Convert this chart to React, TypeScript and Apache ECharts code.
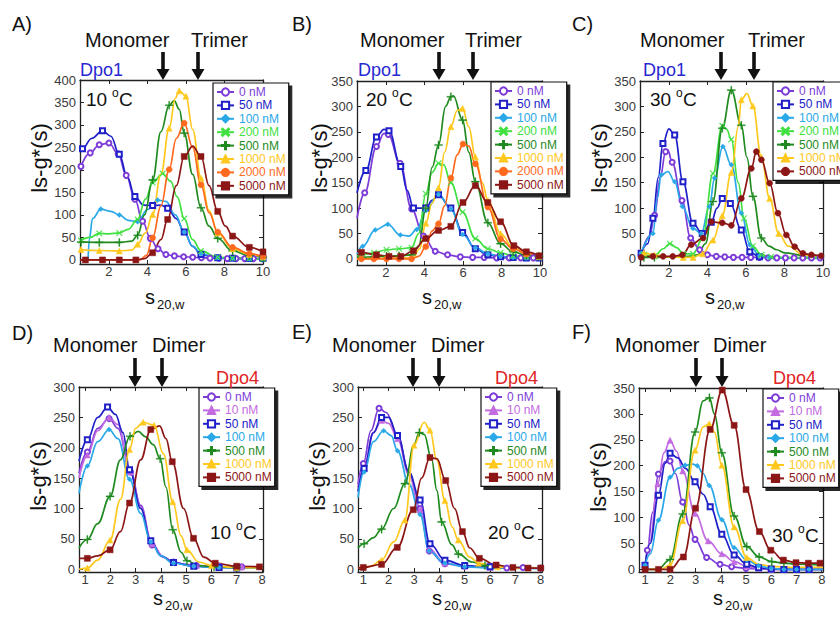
import { useEffect, useRef } from 'react';
import * as echarts from 'echarts';

type Pt = [number, number, number]; // [s20,w, ls-g*(s), marker shown]

// ---------- tick labels ----------
const X_TICKS_DPO1 = [2, 4, 6, 8, 10];
const X_TICKS_DPO4 = [1, 2, 3, 4, 5, 6, 7, 8];
const Y_TICKS_400 = [0, 50, 100, 150, 200, 250, 300, 350, 400];
const Y_TICKS_350 = [0, 50, 100, 150, 200, 250, 300, 350];
const Y_TICKS_300 = [0, 50, 100, 150, 200, 250, 300];

// ---------- Panel A: Dpo1 10 °C ----------
const A_0nM: Pt[] = [[0.55,208,1],[1.03,238,1],[1.5,256,1],[2.0,260,1],[2.48,236,1],[2.9,188,1],[3.35,135,1],[3.75,86,1],[4.15,48,1],[4.55,25,1],[4.96,12,1],[5.4,9,1],[5.88,7,1],[6.35,6,1],[6.8,5,1],[7.25,4,1],[7.7,4,1],[8.15,3,1],[8.6,3,1],[9.05,3,1],[9.5,3,1],[9.95,3,1]];
const A_50nM: Pt[] = [[0.5,240,0],[0.63,247,1],[1.1,270,0],[1.67,287,1],[2.1,275,0],[2.54,235,1],[2.95,185,0],[3.35,141,1],[3.8,122,0],[4.27,121,1],[4.7,122,0],[5.05,115,1],[5.5,92,0],[5.91,62,1],[6.35,30,0],[6.78,12,1],[7.65,5,1],[8.42,4,1],[9.29,3,1],[10,3,1]];
const A_100nM: Pt[] = [[0.92,0,0],[0.98,45,0],[1.15,92,0],[1.58,113,1],[2.1,108,0],[2.54,100,1],[3.0,88,0],[3.49,85,1],[4.0,112,0],[4.53,133,1],[4.96,130,0],[5.45,100,0],[5.91,62,1],[6.35,30,0],[6.78,14,1],[7.65,5,1],[8.42,3,1],[9.29,2,1],[10,2,1]];
const A_200nM: Pt[] = [[0.55,43,1],[1.0,50,0],[1.5,59,1],[2.0,58,0],[2.54,60,1],[3.0,68,0],[3.49,90,1],[3.9,135,0],[4.27,172,1],[4.79,192,1],[5.2,175,0],[5.55,140,0],[5.91,92,1],[6.35,45,0],[6.78,20,1],[7.65,6,1],[8.42,4,1],[9.29,3,1],[10,2,1]];
const A_500nM: Pt[] = [[0.55,40,1],[1.5,39,1],[2.54,39,1],[3.2,42,0],[3.49,55,1],[3.85,100,0],[4.27,178,1],[4.7,285,0],[5.13,344,1],[5.39,354,0],[5.65,335,0],[5.91,282,1],[6.35,190,0],[6.78,116,1],[7.2,75,0],[7.65,48,1],[8.42,20,1],[9.29,10,1],[10,6,1]];
const A_1000nM: Pt[] = [[0.55,23,1],[1.5,21,1],[2.54,20,1],[3.2,22,0],[3.49,35,1],[3.9,60,0],[4.27,101,1],[4.7,190,0],[5.13,293,1],[5.45,360,0],[5.65,376,1],[6.0,364,1],[6.35,290,0],[6.78,182,1],[7.2,110,0],[7.65,60,1],[8.42,25,1],[9.29,12,1],[10,7,1]];
const A_2000nM: Pt[] = [[0.5,0,0],[3.6,0,0],[3.95,10,0],[4.27,49,1],[4.7,120,0],[5.13,201,1],[5.5,270,0],[5.91,304,1],[6.35,250,0],[6.78,167,1],[7.2,105,0],[7.65,62,1],[8.42,28,1],[9.29,14,1],[10,8,1]];
const A_5000nM: Pt[] = [[0.5,0,0],[0.78,0,1],[1.67,0,1],[2.54,0,1],[3.4,0,1],[3.85,3,0],[4.27,16,1],[4.7,45,0],[5.05,90,1],[5.5,165,0],[5.91,230,1],[6.35,253,0],[6.78,230,1],[7.2,165,0],[7.65,108,1],[8.05,75,0],[8.42,53,1],[9.29,28,1],[10,18,1]];

// ---------- Panel B: Dpo1 20 °C ----------
const B_0nM: Pt[] = [[0.5,80,0],[0.9,130,1],[1.51,221,1],[1.9,247,0],[2.12,245,1],[2.73,188,1],[3.34,98,1],[3.95,45,1],[4.56,15,1],[5.2,8,1],[5.86,4,1],[6.5,3,1],[7.1,3,1],[7.75,2,1],[8.4,2,1],[9.0,2,1],[9.65,2,1],[10.1,2,0]];
const B_50nM: Pt[] = [[0.5,130,0],[0.96,174,1],[1.51,240,1],[1.9,255,0],[2.16,252,1],[2.77,182,1],[3.1,135,0],[3.43,100,1],[4.07,100,1],[4.4,115,0],[4.73,126,1],[5.37,100,1],[5.98,52,1],[6.64,20,1],[7.29,8,1],[7.95,4,1],[8.6,3,1],[9.29,2,1],[9.95,2,1]];
const B_100nM: Pt[] = [[0.5,10,0],[0.8,25,1],[1.45,57,1],[2.1,68,1],[2.75,47,1],[3.2,45,0],[3.6,58,1],[4.07,95,1],[4.73,127,1],[5.37,98,1],[5.98,48,1],[6.64,22,1],[7.29,10,1],[7.95,5,1],[8.6,3,1],[9.29,2,1],[9.95,2,1]];
const B_200nM: Pt[] = [[0.5,5,0],[0.73,8,1],[1.38,12,1],[2.03,18,1],[2.68,20,1],[3.33,22,1],[3.7,50,0],[4.07,128,1],[4.4,170,0],[4.73,188,1],[5.0,185,0],[5.37,150,1],[5.98,92,1],[6.64,40,1],[7.29,20,1],[7.95,12,1],[8.6,6,1],[9.29,4,1],[9.95,3,1]];
const B_500nM: Pt[] = [[0.5,3,0],[0.73,3,1],[1.38,4,1],[2.03,5,1],[2.68,6,1],[3.33,8,1],[3.7,25,0],[4.07,100,1],[4.4,180,0],[4.73,224,1],[5.1,300,0],[5.37,319,1],[5.5,321,0],[5.98,273,1],[6.3,210,0],[6.64,152,1],[7.29,71,1],[7.95,30,1],[8.6,14,1],[9.29,7,1],[9.95,5,1]];
const B_1000nM: Pt[] = [[0.5,0,0],[3.4,2,0],[3.75,20,0],[4.07,70,1],[4.4,110,0],[4.73,140,1],[5.05,210,0],[5.37,260,1],[5.7,292,0],[5.98,296,1],[6.3,260,0],[6.64,201,1],[7.0,150,0],[7.29,115,1],[7.95,50,1],[8.6,22,1],[9.29,10,1],[9.95,5,1]];
const B_2000nM: Pt[] = [[0.5,0,0],[0.73,0,1],[1.38,0,1],[2.03,0,1],[2.68,0,1],[3.33,0,1],[3.7,5,0],[4.07,24,1],[4.4,55,0],[4.73,69,1],[5.05,105,0],[5.37,159,1],[5.7,205,0],[6.0,226,1],[6.3,222,0],[6.64,187,1],[7.29,102,1],[7.95,39,1],[8.6,20,1],[9.29,10,1],[9.95,6,1]];
const B_5000nM: Pt[] = [[0.5,15,0],[0.73,13,1],[1.51,8,1],[2.16,5,1],[2.77,5,1],[3.43,16,1],[4.07,40,1],[4.73,56,1],[5.37,64,1],[6.0,111,1],[6.64,144,1],[7.29,111,1],[7.95,73,1],[8.64,26,1],[9.29,14,1],[9.95,6,1]];

// ---------- Panel C: Dpo1 30 °C ----------
const C_0nM: Pt[] = [[0.56,8,1],[1.0,45,0],[1.26,86,1],[1.55,160,0],[1.83,211,1],[1.95,214,0],[2.17,190,1],[2.68,115,1],[3.13,41,1],[3.6,18,1],[4.0,8,1],[4.46,5,1],[4.9,4,1],[5.35,3,1],[5.8,3,1],[6.25,3,1],[6.7,3,1],[7.15,2,1],[7.6,2,1],[8.05,2,1],[8.5,2,1],[8.95,2,1],[9.4,2,1],[9.85,2,1]];
const C_50nM: Pt[] = [[0.56,11,1],[0.9,30,0],[1.17,80,1],[1.45,160,0],[1.69,227,1],[2.0,256,0],[2.3,244,1],[2.73,152,1],[3.25,70,1],[3.73,50,1],[4.2,72,1],[4.5,100,0],[4.77,119,1],[5.19,109,1],[5.76,57,1],[6.2,14,1],[6.7,4,1],[7.2,3,0],[8,2,0],[10,2,0]];
const C_100nM: Pt[] = [[0.56,11,1],[1.17,50,1],[1.4,120,0],[1.6,165,1],[1.95,172,0],[2.3,152,1],[2.7,103,1],[3.25,60,1],[3.68,50,1],[4.1,103,1],[4.37,159,1],[4.8,221,1],[5.24,185,1],[5.76,90,1],[6.2,28,1],[6.7,6,1],[7.2,3,1],[8,2,0],[10,1,0]];
const C_200nM: Pt[] = [[0.5,12,0],[0.7,8,1],[1.25,5,1],[1.7,20,0],[2.05,30,1],[2.4,22,0],[2.75,10,1],[3.25,10,1],[3.75,40,1],[4.29,168,1],[4.77,262,1],[5.0,255,0],[5.24,235,1],[5.6,150,0],[5.9,80,1],[6.35,25,1],[6.8,8,1],[7.3,4,1],[8,3,0],[10,2,0]];
const C_500nM: Pt[] = [[0.5,5,0],[0.7,3,1],[1.25,3,1],[2.0,4,0],[3.0,5,0],[3.5,8,0],[3.9,30,0],[4.29,113,1],[4.77,257,1],[5.24,332,1],[5.76,263,1],[6.05,200,0],[6.36,123,1],[6.8,41,1],[7.2,25,0],[7.6,18,0],[8,12,0],[9,7,0],[10,5,0]];
const C_1000nM: Pt[] = [[0.5,18,0],[0.7,12,1],[1.25,8,1],[2.0,4,0],[2.75,3,1],[3.25,3,1],[3.75,10,1],[4.29,37,1],[4.77,85,1],[5.24,170,1],[5.6,260,0],[5.76,313,1],[6.05,325,0],[6.36,301,1],[6.8,200,1],[7.23,119,1],[7.7,50,1],[8.2,25,0],[9,8,0],[10,5,0]];
const C_5000nM: Pt[] = [[0.56,3,1],[1.17,5,1],[1.7,5,1],[2.2,5,1],[2.7,8,1],[3.16,28,1],[3.77,41,1],[4.2,73,1],[4.77,71,1],[5.24,66,1],[5.76,119,1],[6.28,178,1],[6.54,211,1],[6.8,195,1],[7.23,149,1],[7.66,90,1],[8.1,47,1],[8.53,24,1],[8.96,11,1],[9.4,8,1],[9.9,6,1]];

// ---------- Panel D: Dpo4 10 °C ----------
const D_0nM: Pt[] = [[0.76,158,0],[1.09,193,1],[1.5,232,0],[1.95,248,1],[2.3,232,0],[2.8,160,1],[3.2,105,0],[3.65,40,1],[4.1,20,0],[4.5,12,1],[5.0,8,0],[5.4,6,1],[6.0,5,0],[6.3,5,1],[7.2,4,1],[8.04,3,0]];
const D_10nM: Pt[] = [[0.76,150,0],[1.09,188,1],[1.5,228,0],[1.95,250,1],[2.3,238,0],[2.8,160,1],[3.2,102,0],[3.65,42,1],[4.1,20,0],[4.5,12,1],[5.0,7,0],[5.4,6,1],[6.3,4,1],[7.2,4,1],[8.04,3,0]];
const D_50nM: Pt[] = [[0.76,178,0],[1.09,213,1],[1.5,250,0],[1.89,267,1],[2.2,255,0],[2.5,225,0],[2.76,164,1],[3.2,100,0],[3.6,47,1],[4.0,22,0],[4.5,11,1],[5.3,5,1],[6.3,3,1],[7.0,2,1],[8.04,2,0]];
const D_100nM: Pt[] = [[0.76,125,0],[1.09,170,1],[1.5,210,0],[1.95,230,1],[2.3,215,0],[2.76,148,1],[3.2,92,0],[3.6,45,1],[4.0,22,0],[4.5,10,1],[5.3,5,1],[6.3,3,1],[7.0,2,0],[8.04,2,0]];
const D_500nM: Pt[] = [[0.76,35,0],[1.09,49,1],[1.5,75,0],[1.99,120,1],[2.4,180,0],[2.78,219,1],[3.1,227,0],[3.4,218,0],[3.7,205,0],[3.97,182,1],[4.2,135,0],[4.47,65,1],[4.8,28,0],[5.03,14,1],[5.5,6,0],[6.1,4,1],[7.0,3,1],[8.04,3,0]];
const D_1000nM: Pt[] = [[0.76,0,0],[1.09,2,1],[1.5,15,0],[1.99,48,1],[2.4,115,0],[2.76,197,1],[3.0,232,0],[3.3,242,1],[3.73,237,1],[4.1,190,0],[4.47,111,1],[4.8,55,0],[5.03,32,1],[5.5,12,0],[6.0,6,1],[7.0,3,1],[8.04,2,0]];
const D_5000nM: Pt[] = [[0.76,18,0],[1.09,18,1],[1.5,22,0],[1.99,32,1],[2.4,62,0],[2.76,109,1],[3.2,180,0],[3.6,230,1],[3.95,236,0],[4.2,215,0],[4.45,177,1],[4.9,100,0],[5.29,51,1],[5.7,20,0],[6.15,10,1],[7.0,5,1],[7.9,4,1]];

// ---------- Panel E: Dpo4 20 °C ----------
const E_0nM: Pt[] = [[0.79,140,0],[1.0,174,1],[1.3,228,0],[1.62,265,1],[1.9,258,0],[2.35,220,1],[2.8,160,0],[3.24,100,1],[3.6,30,1],[4.22,9,1],[5.0,5,1],[5.5,4,0],[6.0,4,1],[6.66,2,1],[7.3,3,1],[8.0,2,1]];
const E_10nM: Pt[] = [[0.79,135,0],[1.03,168,1],[1.4,225,0],[1.72,245,1],[2.0,240,0],[2.35,215,1],[2.8,155,0],[3.24,98,1],[3.6,33,1],[4.22,10,1],[5.0,5,1],[6.0,3,1],[7.0,2,0],[8.05,2,0]];
const E_50nM: Pt[] = [[0.79,128,0],[1.03,166,1],[1.4,225,0],[1.72,250,1],[2.0,250,0],[2.35,220,1],[2.8,160,0],[3.24,114,1],[3.63,42,1],[4.22,15,1],[5.0,6,1],[6.0,4,1],[7.0,2,0],[8.05,2,0]];
const E_100nM: Pt[] = [[0.79,118,0],[1.03,160,1],[1.4,210,0],[1.8,228,1],[2.1,220,0],[2.35,195,1],[2.8,140,0],[3.24,90,1],[3.6,30,1],[4.22,10,1],[5.0,4,1],[6.0,2,0],[8.05,1,0]];
const E_500nM: Pt[] = [[0.79,35,0],[1.03,42,1],[1.4,52,0],[1.72,66,1],[2.2,100,0],[2.64,141,1],[3.0,205,0],[3.21,225,1],[3.4,222,0],[3.7,180,0],[3.9,130,0],[4.09,78,1],[4.5,40,0],[4.75,25,1],[5.3,12,0],[5.8,6,1],[6.5,3,0],[8.05,2,0]];
const E_1000nM: Pt[] = [[0.79,2,0],[1.3,5,0],[1.72,15,1],[2.2,45,0],[2.64,81,1],[3.0,204,1],[3.4,242,0],[3.63,229,1],[3.9,180,0],[4.22,113,1],[4.5,70,0],[4.75,48,1],[5.2,20,0],[5.55,10,1],[6.3,4,1],[7.0,2,0],[8.05,2,0]];
const E_5000nM: Pt[] = [[0.79,2,0],[1.0,3,1],[1.72,8,1],[2.34,36,1],[2.97,98,1],[3.3,150,0],[3.63,184,1],[3.9,182,0],[4.25,146,1],[4.6,100,0],[4.91,62,1],[5.2,35,0],[5.58,18,1],[6.24,7,1],[6.9,3,1],[7.5,2,1],[8.0,2,1]];

// ---------- Panel F: Dpo4 30 °C ----------
const F_0nM: Pt[] = [[1.0,0,0],[1.09,37,1],[1.3,110,0],[1.53,184,1],[1.8,208,0],[1.99,209,1],[2.2,185,0],[2.49,130,1],[2.75,85,0],[2.98,58,1],[3.44,23,1],[3.97,10,1],[4.43,5,1],[5.0,2,1],[5.5,1,0],[6.0,0,1],[6.5,0,1],[7.0,0,1],[7.5,0,1],[8.05,0,0]];
const F_10nM: Pt[] = [[1.0,0,0],[1.2,55,0],[1.5,165,1],[1.75,225,0],[1.99,249,1],[2.25,228,0],[2.49,190,1],[2.98,108,1],[3.5,55,1],[4.04,30,1],[4.53,15,1],[5.03,6,1],[5.52,2,1],[6.0,0,1],[7.0,0,0],[8.05,0,0]];
const F_50nM: Pt[] = [[1.0,8,1],[1.2,50,0],[1.53,143,1],[1.8,205,0],[1.99,224,1],[2.3,215,0],[2.6,195,0],[2.98,169,1],[3.3,145,0],[3.58,121,1],[4.04,68,1],[4.53,28,1],[5.03,10,1],[5.5,3,1],[6.0,1,1],[6.5,0,1],[7.0,0,1],[7.5,0,1],[8.05,0,0]];
const F_100nM: Pt[] = [[1.0,8,1],[1.2,30,0],[1.53,95,1],[1.99,178,1],[2.3,195,0],[2.59,201,1],[2.9,203,0],[3.07,200,1],[3.3,185,0],[3.54,162,1],[4.04,96,1],[4.53,42,1],[5.03,18,1],[5.5,7,1],[6.0,2,1],[6.5,0,1],[7.0,0,1],[7.5,0,1],[8.05,0,0]];
const F_500nM: Pt[] = [[1.0,0,0],[1.5,0,0],[1.99,19,1],[2.49,107,1],[2.98,265,1],[3.3,325,0],[3.55,331,1],[3.75,300,0],[4.04,225,1],[4.53,103,1],[5.03,44,1],[5.52,24,1],[6.02,15,1],[6.5,12,1],[7.0,10,0],[8.05,8,0]];
const F_1000nM: Pt[] = [[1.0,0,0],[1.6,0,0],[1.99,8,1],[2.49,94,1],[2.98,230,1],[3.3,275,0],[3.54,281,1],[3.75,265,0],[4.04,201,1],[4.53,82,1],[5.03,23,1],[5.5,10,0],[6.0,6,0],[7.0,4,0],[8.05,4,0]];
const F_5000nM: Pt[] = [[1.0,0,1],[1.53,0,1],[1.99,0,1],[2.52,24,1],[3.0,118,1],[3.58,270,1],[4.06,346,1],[4.53,278,1],[5.0,154,1],[5.53,73,1],[5.98,37,1],[6.48,18,1],[6.98,13,1],[7.47,12,1],[7.93,12,1]];

// ---------- styles ----------
const FONT = '"Liberation Sans", Arial, Helvetica, sans-serif';
const SYM_X = 'path://M1,0L5,4L9,0L10,1L6,5L10,9L9,10L5,6L1,10L0,9L4,5L0,1Z';
const SYM_PLUS = 'path://M4.3,0H5.7V4.3H10V5.7H5.7V10H4.3V5.7H0V4.3H4.3Z';

const STYLE: Record<string, { color: string; symbol: string; size: number }> = {
  '0 nM': { color: '#7d3cd8', symbol: 'emptyCircle', size: 5 },
  '10 nM': { color: '#c36be0', symbol: 'triangle', size: 6 },
  '50 nM': { color: '#2020c8', symbol: 'emptyRect', size: 5 },
  '100 nM': { color: '#2aa8e8', symbol: 'diamond', size: 5 },
  '200 nM': { color: '#40e040', symbol: SYM_X, size: 6 },
  '500 nM': { color: '#1f8a1f', symbol: SYM_PLUS, size: 8 },
  '1000 nM': { color: '#ffc81e', symbol: 'triangle', size: 6 },
  '2000 nM': { color: '#ff6a1e', symbol: 'circle', size: 6 },
  '5000 nM': { color: '#8c1616', symbol: 'rect', size: 6 },
};

interface PanelDef {
  key: string;
  grid: { left: number; top: number; width: number; height: number };
  xMin: number; xMax: number; xTicks: number[];
  yMin: number; yMax: number; yTicks: number[];
  legend: { left: number; top: number };
  series: [string, Pt[], string?][];
}

const PANELS: PanelDef[] = [
  { key: 'A', grid: { left: 80, top: 80, width: 183, height: 184 }, xMin: 0.5, xMax: 10, xTicks: X_TICKS_DPO1, yMin: -9, yMax: 400, yTicks: Y_TICKS_400, legend: { left: 213, top: 83 },
    series: [['0 nM', A_0nM], ['50 nM', A_50nM], ['100 nM', A_100nM], ['200 nM', A_200nM], ['500 nM', A_500nM], ['1000 nM', A_1000nM], ['2000 nM', A_2000nM], ['5000 nM', A_5000nM]] },
  { key: 'B', grid: { left: 357, top: 81, width: 185, height: 184 }, xMin: 0.5, xMax: 10.1, xTicks: X_TICKS_DPO1, yMin: -12, yMax: 350, yTicks: Y_TICKS_350, legend: { left: 491, top: 82 },
    series: [['0 nM', B_0nM], ['50 nM', B_50nM], ['100 nM', B_100nM], ['200 nM', B_200nM], ['500 nM', B_500nM], ['1000 nM', B_1000nM], ['2000 nM', B_2000nM], ['5000 nM', B_5000nM]] },
  { key: 'C', grid: { left: 640, top: 81, width: 183, height: 184 }, xMin: 0.5, xMax: 10, xTicks: X_TICKS_DPO1, yMin: -12, yMax: 350, yTicks: Y_TICKS_350, legend: { left: 773, top: 82 },
    series: [['0 nM', C_0nM], ['50 nM', C_50nM], ['100 nM', C_100nM], ['200 nM', C_200nM], ['500 nM', C_500nM], ['1000 nM', C_1000nM], ['5000 nM', C_5000nM, 'circle']] },
  { key: 'D', grid: { left: 79, top: 387, width: 184, height: 185 }, xMin: 0.76, xMax: 8.04, xTicks: X_TICKS_DPO4, yMin: -4.5, yMax: 300, yTicks: Y_TICKS_300, legend: { left: 199, top: 388 },
    series: [['0 nM', D_0nM], ['10 nM', D_10nM], ['50 nM', D_50nM], ['100 nM', D_100nM], ['500 nM', D_500nM], ['1000 nM', D_1000nM], ['5000 nM', D_5000nM]] },
  { key: 'E', grid: { left: 358, top: 387, width: 184, height: 185 }, xMin: 0.79, xMax: 8.05, xTicks: X_TICKS_DPO4, yMin: -4.5, yMax: 300, yTicks: Y_TICKS_300, legend: { left: 481, top: 388 },
    series: [['0 nM', E_0nM], ['10 nM', E_10nM], ['50 nM', E_50nM], ['100 nM', E_100nM], ['500 nM', E_500nM], ['1000 nM', E_1000nM], ['5000 nM', E_5000nM]] },
  { key: 'F', grid: { left: 639, top: 388, width: 184, height: 184 }, xMin: 0.76, xMax: 8.05, xTicks: X_TICKS_DPO4, yMin: -5, yMax: 350, yTicks: Y_TICKS_350, legend: { left: 763, top: 389 },
    series: [['0 nM', F_0nM], ['10 nM', F_10nM], ['50 nM', F_50nM], ['100 nM', F_100nM], ['500 nM', F_500nM], ['1000 nM', F_1000nM], ['5000 nM', F_5000nM]] },
];

// ---------- annotation texts ----------
const PANEL_LETTERS = ['A)', 'B)', 'C)', 'D)', 'E)', 'F)'];
const TEMPS = ['10', '20', '30', '10', '20', '30'];
const PROTEINS = ['Dpo1', 'Dpo1', 'Dpo1', 'Dpo4', 'Dpo4', 'Dpo4'];
const OLIGO = ['Trimer', 'Trimer', 'Trimer', 'Dimer', 'Dimer', 'Dimer'];

function valueAxis(gridIndex: number, position: string, min: number, max: number, ticks: number[], showLabel: boolean) {
  const isX = position === 'bottom' || position === 'top';
  return {
    type: 'value', gridIndex, position, min, max,
    axisLine: { show: true, onZero: false, lineStyle: { color: '#222', width: 1.3 } },
    axisTick: { show: true, inside: true, length: 4, customValues: ticks, lineStyle: { color: '#222', width: 1 } },
    axisLabel: { show: showLabel, customValues: ticks, fontSize: 13, color: '#3a3a3a', fontFamily: FONT, margin: isX ? 1 : 4 },
    splitLine: { show: false },
  };
}

function text(x: number, y: number, t: string, size: number, fill = '#111', align = 'left', rotation = 0) {
  return { type: 'text', x, y, rotation, z: 50, style: { text: t, fontSize: size, fontFamily: FONT, fill, align, verticalAlign: 'middle' } };
}

function arrow(x: number, y0: number, y1: number) {
  return {
    type: 'polygon', z: 50,
    shape: { points: [[x - 1.8, y0], [x + 1.8, y0], [x + 1.8, y1 - 11], [x + 6.5, y1 - 11], [x, y1], [x - 6.5, y1 - 11], [x - 1.8, y1 - 11]] },
    style: { fill: '#111' },
  };
}

function buildOption() {
  const grid = PANELS.map((p) => ({ ...p.grid, containLabel: false }));
  const xAxis: any[] = [];
  const yAxis: any[] = [];
  PANELS.forEach((p, i) => xAxis.push(valueAxis(i, 'bottom', p.xMin, p.xMax, p.xTicks, true)));
  PANELS.forEach((p, i) => xAxis.push(valueAxis(i, 'top', p.xMin, p.xMax, p.xTicks, false)));
  PANELS.forEach((p, i) => yAxis.push(valueAxis(i, 'left', p.yMin, p.yMax, p.yTicks, true)));
  PANELS.forEach((p, i) => yAxis.push(valueAxis(i, 'right', p.yMin, p.yMax, p.yTicks, false)));

  const series: any[] = [];
  const legend: any[] = [];
  PANELS.forEach((p, i) => {
    const names: any[] = [];
    p.series.forEach(([label, pts, symOverride]) => {
      const st = STYLE[label];
      const symbol = symOverride || st.symbol;
      const isPath = symbol.startsWith('path://');
      const isEmpty = symbol.startsWith('empty');
      const name = `${p.key}|${label}`;
      names.push({ name, textStyle: { color: st.color } });
      series.push({
        type: 'line', name, xAxisIndex: i, yAxisIndex: i,
        data: pts.map(([x, y, m]) => (m ? [x, y] : { value: [x, y], symbol: 'none' })),
        smooth: 0.4, smoothMonotone: 'x',
        symbol, symbolSize: symOverride === 'circle' ? 6 : st.size,
        showSymbol: true, showAllSymbol: true, clip: true,
        lineStyle: { color: st.color, width: 1.7 },
        itemStyle: { color: st.color, borderColor: st.color, borderWidth: isPath ? 0.3 : isEmpty ? 1.1 : 0.5 },
        emphasis: { disabled: true },
        z: 2,
      });
    });
    legend.push({
      orient: 'vertical', left: p.legend.left, top: p.legend.top,
      itemWidth: 17, itemHeight: 9, itemGap: 1.4, padding: [3, 3, 3, 3],
      backgroundColor: '#fff', borderColor: '#111', borderWidth: 1.2,
      shadowColor: 'rgba(0,0,0,0.85)', shadowOffsetX: 3, shadowOffsetY: 3, shadowBlur: 1,
      textStyle: { fontSize: 12, fontFamily: FONT, lineHeight: 12 },
      selectedMode: false,
      formatter: (n: string) => n.split('|')[1],
      data: names, z: 10,
    });
  });

  const g: any[] = [];
  const letterPos = [[12, 24], [292, 24], [572, 24], [12, 333], [292, 332], [572, 332]];
  letterPos.forEach(([x, y], i) => g.push(text(x, y, PANEL_LETTERS[i], 20)));
  const monoPos = [[85, 40], [360, 40], [640, 40], [53, 345], [332, 345], [615, 345]];
  const oligoPos = [[191, 40], [465, 40], [748, 40], [152, 345], [431, 345], [713, 345]];
  monoPos.forEach(([x, y]) => g.push(text(x, y, 'Monomer', 20)));
  oligoPos.forEach(([x, y], i) => g.push(text(x, y, OLIGO[i], 20)));
  const arrowPos = [[163, 198, 52, 80], [439, 473, 52, 80], [721, 754, 52, 80], [135, 162, 358, 387], [413, 439, 358, 387], [696, 722, 358, 387]];
  arrowPos.forEach(([a, b, y0, y1]) => { g.push(arrow(a, y0, y1)); g.push(arrow(b, y0, y1)); });
  const protPos = [[80, 70], [358, 70], [643, 70], [216, 378], [495, 378], [773, 378]];
  protPos.forEach(([x, y], i) => g.push(text(x, y, PROTEINS[i], 18, i < 3 ? '#2828d2' : '#e02424')));
  const tempPos = [[86, 99], [366, 99], [650, 99], [210, 532], [488, 532], [772, 535]];
  tempPos.forEach(([x, y], i) => {
    g.push(text(x, y, TEMPS[i], 19));
    g.push(text(x + 26, y - 6, 'o', 12));
    g.push(text(x + 33, y, 'C', 19));
  });
  const yNamePos = [[39, 158], [319, 158], [599, 158], [38, 476], [317, 476], [598, 477]];
  yNamePos.forEach(([x, y]) => g.push(text(x, y, 'ls-g*(s)', 22, '#111', 'center', Math.PI / 2)));
  const xNamePos = [[145, 297], [422, 297], [705, 297], [153, 598], [432, 598], [713, 598]];
  xNamePos.forEach(([x, y]) => {
    g.push(text(x, y, 's', 20));
    g.push(text(x + 12, y + 7, '20,w', 13));
  });

  return {
    animation: false,
    backgroundColor: '#fff',
    grid, xAxis, yAxis, series, legend,
    graphic: { elements: g },
  };
}

export default function App() {
  const ref = useRef<HTMLDivElement>(null);
  useEffect(() => {
    if (!ref.current) return;
    const chart = echarts.init(ref.current, undefined, { renderer: 'svg' });
    chart.setOption(buildOption() as any);
    return () => chart.dispose();
  }, []);
  return <div ref={ref} style={{ position: 'absolute', left: 0, top: 0, width: 840, height: 618 }} />;
}
